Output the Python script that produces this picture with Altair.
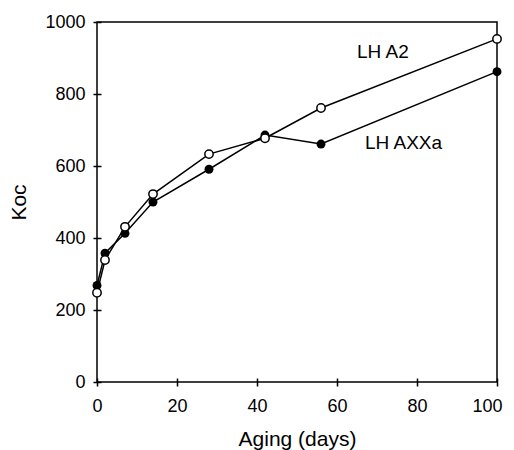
import altair as alt
import pandas as pd

days = [0, 2, 7, 14, 28, 42, 56, 100]
koc_axxa = [268, 358, 413, 500, 591, 686, 661, 862]
koc_a2 = [248, 339, 431, 522, 633, 677, 761, 953]
label_text = ["LH A2", "LH AXXa"]
label_x = [65, 67]
label_y = [918, 665]

df_axxa = pd.DataFrame({"days": days, "koc": koc_axxa})
df_a2 = pd.DataFrame({"days": days, "koc": koc_a2})
df_lab = pd.DataFrame({"t": label_text, "days": label_x, "koc": label_y})

FONT = "Liberation Sans"

xs = alt.Scale(domain=[0, 100], nice=False, zero=False)
ys = alt.Scale(domain=[0, 1000], nice=False, zero=False)

xax = alt.Axis(values=[0, 20, 40, 60, 80, 100], title="Aging (days)", offset=-4, format="d",
               tickSize=8, domain=False, grid=False, labelPadding=11, titlePadding=13,
               labelFlush=False, labelOverlap=False,
               labelOffset={"condition": {"test": "datum.value == 100", "value": -10}, "value": 0})
yax = alt.Axis(values=[0, 200, 400, 600, 800, 1000], title="Koc", offset=-4, format="d",
               tickSize=8, domain=False, grid=False, labelPadding=8, titlePadding=15,
               labelFlush=False, labelOverlap=False)

X = alt.X("days:Q", scale=xs, axis=xax)
Y = alt.Y("koc:Q", scale=ys, axis=yax)

line1 = alt.Chart(df_axxa).mark_line(color="black", strokeWidth=1.5).encode(x=X, y=Y)
pts1 = alt.Chart(df_axxa).mark_point(shape="circle", filled=True, color="black", size=80,
                                     opacity=1).encode(x=X, y=Y)
line2 = alt.Chart(df_a2).mark_line(color="black", strokeWidth=1.5).encode(x=X, y=Y)
pts2 = alt.Chart(df_a2).mark_point(shape="circle", filled=False, fill="white", stroke="black",
                                   strokeWidth=1.5, size=70, opacity=1,
                                   fillOpacity=1).encode(x=X, y=Y)
labels = alt.Chart(df_lab).mark_text(align="left", baseline="middle", fontSize=19,
                                     font=FONT, color="black").encode(x=X, y=Y, text="t:N")

chart = alt.layer(line1, pts1, line2, pts2, labels).properties(
    width=400, height=360,
    background="white",
    autosize=alt.AutoSizeParams(type="none"),
    padding={"left": 89, "top": 14, "right": 9, "bottom": 80},
).configure_view(stroke="black", strokeWidth=1.5).configure_axis(
    labelFont=FONT, titleFont=FONT, labelFontSize=18, titleFontSize=21,
    titleFontWeight="normal", labelColor="black", titleColor="black",
    tickColor="black", tickWidth=1.5,
)

chart.save("out.html", embed_options={"renderer": "svg", "actions": False})
